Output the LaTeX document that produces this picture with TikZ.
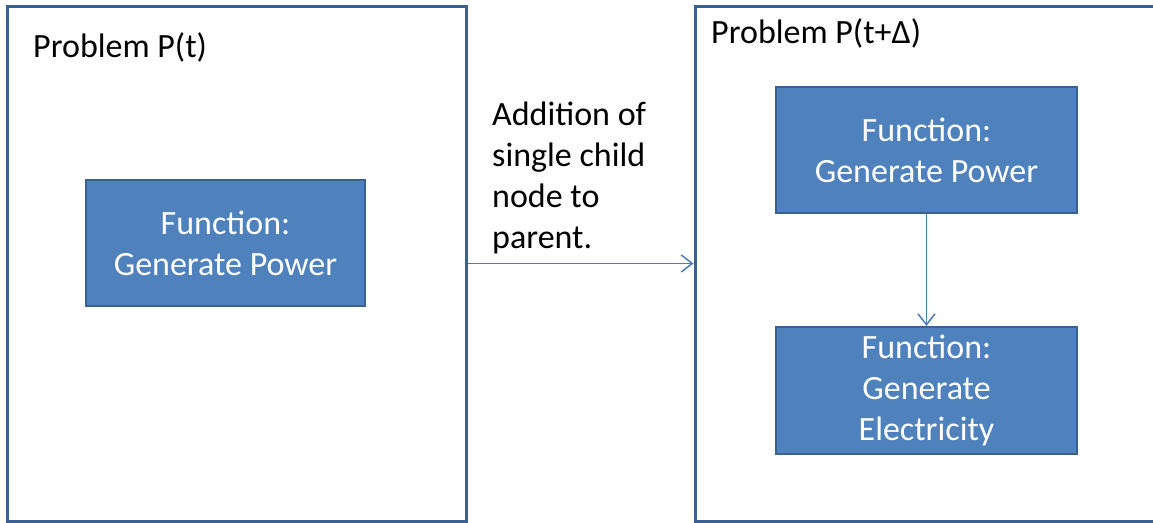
\documentclass[tikz,border=0pt]{standalone}
\usepackage{fontspec}
\setmainfont{Carlito}
\usetikzlibrary{arrows.meta}
\definecolor{fnFill}{HTML}{4F81BD}
\definecolor{fnEdge}{HTML}{3A6190}
\definecolor{frameEdge}{HTML}{3B6191}
\definecolor{linkBlue}{HTML}{4A7EBB}
\begin{document}
\begin{tikzpicture}[x=1pt, y=-1pt,
    frame/.style={rectangle, draw=frameEdge, line width=3pt, inner sep=0pt, minimum height=515pt},
    func/.style={rectangle, draw=fnEdge, line width=2pt, fill=fnFill, text=white, align=center, minimum height=126pt, inner sep=0pt, font=\fontsize{34}{41}\selectfont},
    probTitle/.style={inner sep=0pt, font=\fontsize{34}{41}\selectfont},
    note/.style={inner sep=0pt, align=left, font=\fontsize{34}{41}\selectfont},
    link/.style={draw=linkBlue, line width=1.5pt, -{Straight Barb[length=11pt, width=17pt]}}
]
    \useasboundingbox (0,0) rectangle (1153,522);
    \clip (0,0) rectangle (1153,522);

    \node[frame, minimum width=459pt] (probNow) at (236.5,263.5) {};
    \node[frame, minimum width=475pt] (probNext) at (932.5,263.5) {};

    \node[probTitle, anchor=base west] (titleNow) at (33,57) {Problem P(t)};
    \node[probTitle, anchor=base west] (titleNext) at (711,43) {Problem P(t+Δ)};

    \node[func, minimum width=279pt] (powerNow) at (225.5,243) {Function:\\Generate Power};
    \node[func, minimum width=301pt] (powerNext) at (926.5,150) {Function:\\Generate Power};
    \node[func, minimum width=301pt, minimum height=127pt] (electricity) at (926.5,390.5) {Function:\\Generate\\Electricity};

    \node[note, anchor=north west] (change) at (492,102) {Addition of\\single child\\node to\\parent.};

    \draw[link] (probNow.east) -- (probNext.west);
    \draw[link] (powerNext.south) -- (electricity.north);
\end{tikzpicture}
\end{document}
